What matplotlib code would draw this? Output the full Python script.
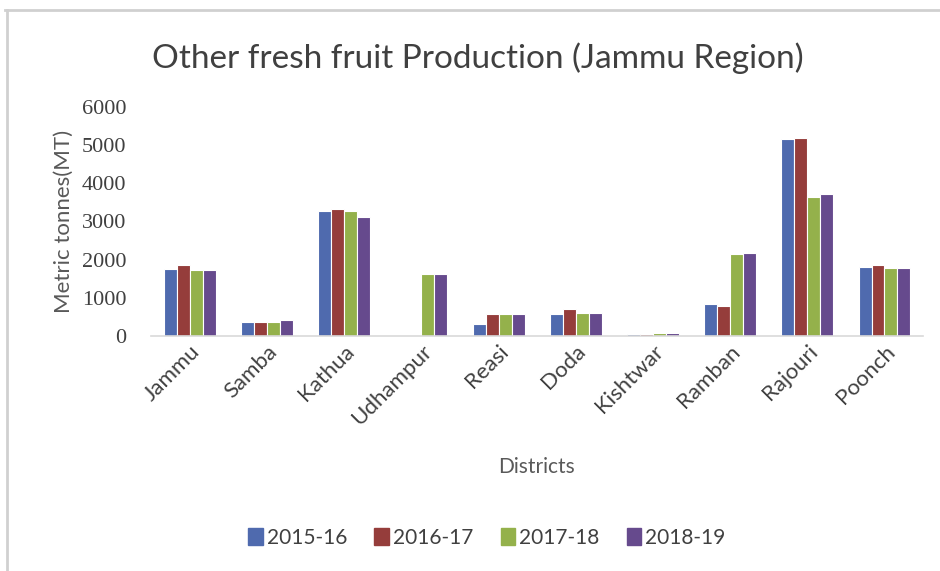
import matplotlib

matplotlib.use("Agg")

import matplotlib.pyplot as plt
import numpy as np
from matplotlib.lines import Line2D

districts = ["Jammu", "Samba", "Kathua", "Udhampur", "Reasi",
             "Doda", "Kishtwar", "Ramban", "Rajouri", "Poonch"]
years = ["2015-16", "2016-17", "2017-18", "2018-19"]

prod_2015 = [1750, 370, 3270, 0, 305, 565, 45, 830, 5150, 1820]
prod_2016 = [1860, 370, 3340, 0, 565, 705, 45, 795, 5180, 1860]
prod_2017 = [1720, 370, 3270, 1620, 565, 600, 70, 2145, 3630, 1780]
prod_2018 = [1720, 410, 3130, 1620, 565, 600, 70, 2180, 3720, 1780]

yticks = [0, 1000, 2000, 3000, 4000, 5000, 6000]

COLORS = ["#4F6AAE", "#953D3B", "#94B14B", "#664A8D"]
AXIS_GREY = "#D9D9D9"
TEXT = "#595959"

fig = plt.figure(figsize=(9.4, 5.71), dpi=100)
ax = fig.add_axes([0.161, 0.4116, 0.821, 0.401])

x = np.arange(len(districts))
width = 0.168
series = [prod_2015, prod_2016, prod_2017, prod_2018]
for i, (vals, label) in enumerate(zip(series, years)):
    ax.bar(x + (i - 1.5) * width, vals, width, color=COLORS[i],
           edgecolor="white", linewidth=0.8, label=label)

ax.set_xlim(-0.5, len(districts) - 0.5)
ax.set_ylim(0, 6000)
ax.set_yticks(yticks)
ax.set_yticklabels([str(v) for v in yticks], family="Liberation Serif",
                   fontsize=16, color="#404040")
ax.set_xticks(x)
ax.set_xticklabels(districts, rotation=45, ha="right", va="top",
                   rotation_mode="anchor", fontsize=16, color="#404040",
                   family="Lato")
ax.tick_params(axis="y", length=0, pad=18)
ax.tick_params(axis="x", length=0, pad=4)

for side in ("top", "right", "left"):
    ax.spines[side].set_visible(False)
ax.spines["bottom"].set_color(AXIS_GREY)
ax.spines["bottom"].set_linewidth(1.2)

ax.set_ylabel("Metric tonnes(MT)", fontsize=16, color=TEXT, family="Lato",
              labelpad=6)
fig.text(0.571, 0.182, "Districts", ha="center", va="center",
         fontsize=15, color=TEXT, family="Lato")

fig.text(0.508, 0.898, "Other fresh fruit Production (Jammu Region)",
         ha="center", va="center", fontsize=24, color="#404040",
         family="Lato")

handles = [plt.Rectangle((0, 0), 1, 1, color=c) for c in COLORS]
fig.legend(handles, years, loc="center", bbox_to_anchor=(0.518, 0.058),
           ncol=4, frameon=False, handlelength=0.7,
           handleheight=0.9, handletextpad=0.2, columnspacing=1.3,
           labelcolor="#404040", prop={"family": "Lato", "size": 15})

# thin outer frame along top and left edges
fig.add_artist(Line2D([0.005, 1.0], [0.982, 0.982], color="#D0D0D0",
                      linewidth=2, transform=fig.transFigure))
fig.add_artist(Line2D([0.0075, 0.0075], [0.0, 0.982], color="#D0D0D0",
                      linewidth=2, transform=fig.transFigure))

fig.savefig("out.png", dpi=100, facecolor="white")
